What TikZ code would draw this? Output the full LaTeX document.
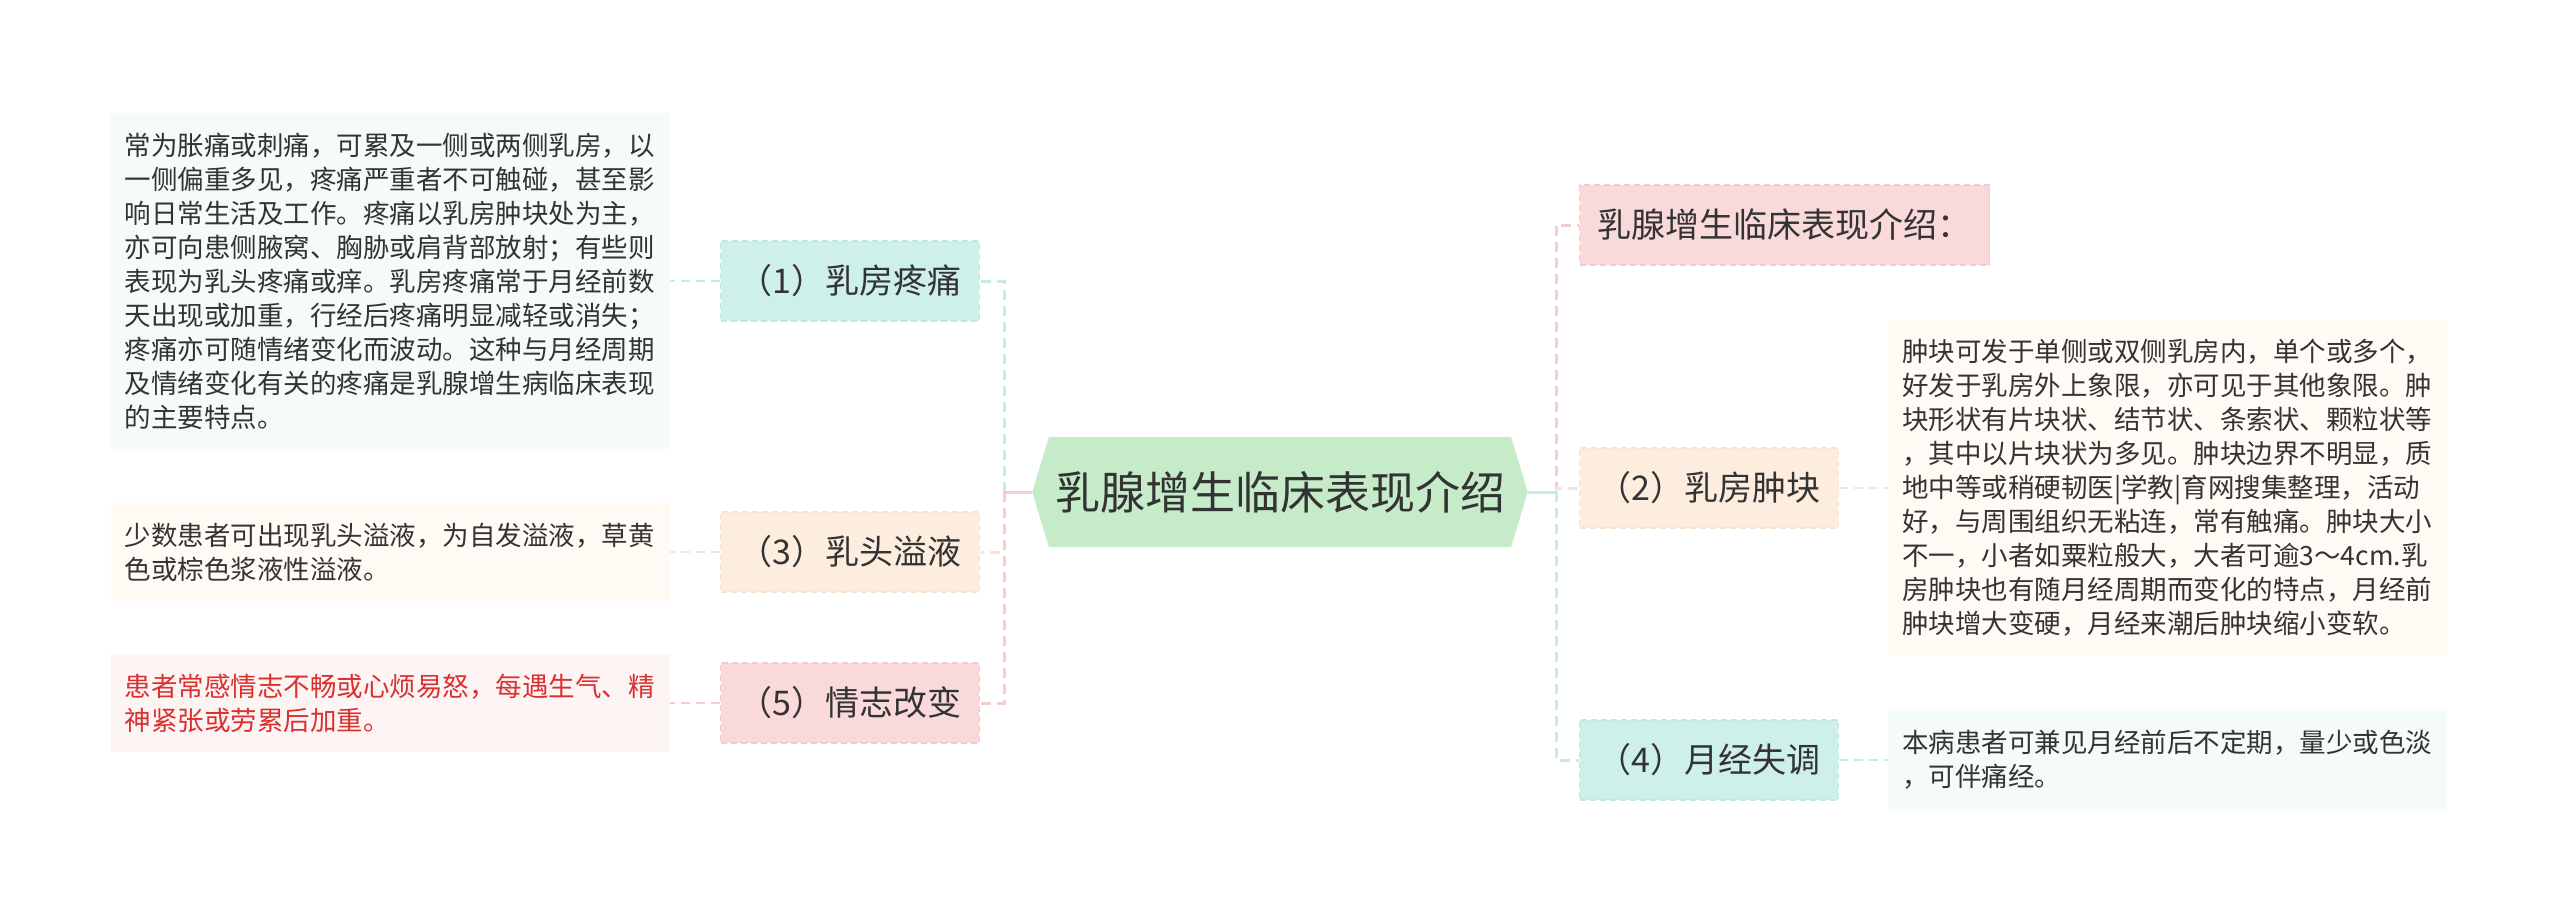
\documentclass[tikz,border=0pt]{standalone}
\usepackage{fontspec}
\setmainfont{Noto Sans CJK SC}
\usepackage{xcolor}
\usepackage{tikz}
\usetikzlibrary{positioning, shapes.symbols}

\definecolor{ink}{HTML}{333333}
\definecolor{redink}{HTML}{DC2F2F}
\definecolor{rootfill}{HTML}{C5EBC8}
\definecolor{tealfill}{HTML}{CEF0EA}
\definecolor{tealdraw}{HTML}{C0E7E0}
\definecolor{tealline}{HTML}{C6EBE4}
\definecolor{tealleaf}{HTML}{F4FBFA}
\definecolor{peachfill}{HTML}{FDEDDE}
\definecolor{peachdraw}{HTML}{F7E2CD}
\definecolor{peachline}{HTML}{FAE4CF}
\definecolor{peachleaf}{HTML}{FFFAF4}
\definecolor{pinkfill}{HTML}{F9D9D9}
\definecolor{pinkdraw}{HTML}{F2CACA}
\definecolor{pinkline}{HTML}{F6CDCD}
\definecolor{pinkleaf}{HTML}{FDF4F4}

\begin{document}
\begin{tikzpicture}[x=1pt, y=-1pt,
  every node/.style={inner sep=0pt, text=ink},
  root/.style={signal, signal to=west and east, signal pointer angle=146,
    fill=rootfill, minimum height=110pt, inner xsep=6pt,
    font=\fontsize{45}{54}\selectfont},
  topic/.style={draw, line width=1.2pt, dash pattern=on 6pt off 4pt,
    minimum height=80pt, inner xsep=18pt, font=\fontsize{34}{40}\selectfont},
  leaf/.style={text width=531pt, align=left, inner xsep=14pt, inner ysep=19.5pt,
    font=\fontsize{26.5}{34}\selectfont},
  hub/.style={line width=3pt},
  link/.style={line width=3pt, dash pattern=on 10pt off 6pt},
  twig/.style={line width=2pt, dash pattern=on 9pt off 6pt}
]
\useasboundingbox (0,0) rectangle (2560,921);

\node[root] (root) at (1280,492) {乳腺增生临床表现介绍};

\node[topic, fill=tealfill, draw=tealdraw, anchor=east]   (tPain)  at (980,281) {（1）乳房疼痛};
\node[topic, fill=peachfill, draw=peachdraw, anchor=east] (tFlow)  at (980,552) {（3）乳头溢液};
\node[topic, fill=pinkfill, draw=pinkdraw, anchor=east]   (tMood)  at (980,703) {（5）情志改变};
\node[topic, fill=pinkfill, draw=pinkdraw, anchor=west]   (tIntro) at (1579,225) {乳腺增生临床表现介绍：};
\node[topic, fill=peachfill, draw=peachdraw, anchor=west] (tLump)  at (1579,488) {（2）乳房肿块};
\node[topic, fill=tealfill, draw=tealdraw, anchor=west]   (tCycle) at (1579,760) {（4）月经失调};

\node[leaf, fill=tealleaf, left=50pt of tPain] (lPain) {常为胀痛或刺痛，可累及一侧或两侧乳房，以\\
一侧偏重多见，疼痛严重者不可触碰，甚至影\\
响日常生活及工作。疼痛以乳房肿块处为主，\\
亦可向患侧腋窝、胸胁或肩背部放射；有些则\\
表现为乳头疼痛或痒。乳房疼痛常于月经前数\\
天出现或加重，行经后疼痛明显减轻或消失；\\
疼痛亦可随情绪变化而波动。这种与月经周期\\
及情绪变化有关的疼痛是乳腺增生病临床表现\\
的主要特点。};
\node[leaf, fill=peachleaf, left=50pt of tFlow] (lFlow) {少数患者可出现乳头溢液，为自发溢液，草黄\\
色或棕色浆液性溢液。};
\node[leaf, fill=pinkleaf, text=redink, left=50pt of tMood] (lMood) {患者常感情志不畅或心烦易怒，每遇生气、精\\
神紧张或劳累后加重。};
\node[leaf, fill=peachleaf, right=49pt of tLump] (lLump) {肿块可发于单侧或双侧乳房内，单个或多个，\\
好发于乳房外上象限，亦可见于其他象限。肿\\
块形状有片块状、结节状、条索状、颗粒状等\\
，其中以片块状为多见。肿块边界不明显，质\\
地中等或稍硬韧医|学教|育网搜集整理，活动\\
好，与周围组织无粘连，常有触痛。肿块大小\\
不一，小者如粟粒般大，大者可逾3～4cm.乳\\
房肿块也有随月经周期而变化的特点，月经前\\
肿块增大变硬，月经来潮后肿块缩小变软。};
\node[leaf, fill=tealleaf, right=49pt of tCycle] (lCycle) {本病患者可兼见月经前后不定期，量少或色淡\\
，可伴痛经。};

\coordinate (hubL) at (1004,492);
\coordinate (hubR) at (1556,492);

\draw[hub, tealline] (root.west) -- (hubL);
\draw[link, tealline] (hubL) |- (tPain.east);
\draw[twig, tealline] (tPain.west) -- (lPain.east);
\draw[hub, peachline] (root.west) -- (hubL);
\draw[link, peachline] (hubL) |- (tFlow.east);
\draw[twig, peachline] (tFlow.west) -- (lFlow.east);
\draw[hub, pinkline] (root.west) -- (hubL);
\draw[link, pinkline] (hubL) |- (tMood.east);
\draw[twig, pinkline] (tMood.west) -- (lMood.east);

\draw[hub, pinkline] (root.east) -- (hubR);
\draw[link, pinkline] (hubR) |- (tIntro.west);
\draw[hub, peachline] (root.east) -- (hubR);
\draw[link, peachline] (hubR) |- (tLump.west);
\draw[twig, peachline] (tLump.east) -- (lLump.west);
\draw[hub, tealline] (root.east) -- (hubR);
\draw[link, tealline] (hubR) |- (tCycle.west);
\draw[twig, tealline] (tCycle.east) -- (lCycle.west);
\end{tikzpicture}
\end{document}
